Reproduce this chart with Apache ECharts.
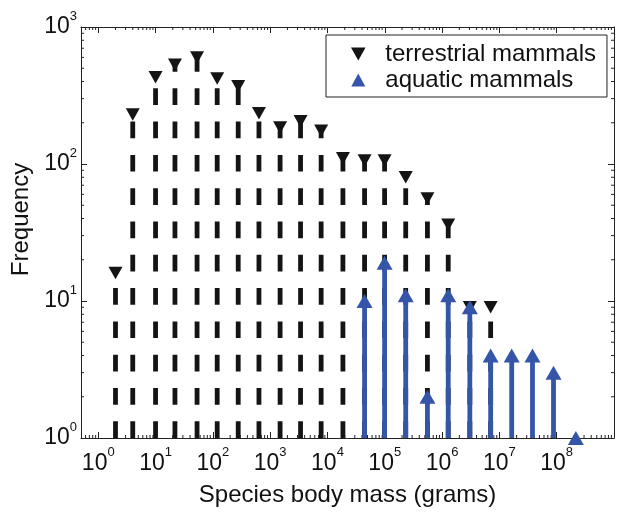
<!DOCTYPE html>
<html><head><meta charset="utf-8">
<script src="https://cdn.jsdelivr.net/npm/echarts@6/dist/echarts.min.js"></script>
<style>html,body{margin:0;padding:0;background:#fff}#c{width:623px;height:513px}</style>
</head><body><div id="c"></div>
<script>
// ---- data ----
const terrestrialMass  = [2.0, 4.0, 10, 21.8, 53, 119, 277, 637, 1490, 3390, 7750, 18600, 44400, 99300, 232000, 555000, 1.28e6, 3.05e6, 7.04e6];
const terrestrialCount = [16, 230, 430, 530, 600, 420, 370, 235, 185, 205, 175, 110, 106, 106, 80, 56, 36, 9, 9];
const aquaticMass  = [44400, 99300, 232000, 555000, 1.28e6, 3.05e6, 7.04e6, 1.64e7, 3.78e7, 8.8e7, 2.16e8];
const aquaticCount = [10, 19, 11, 2, 11, 9, 4, 4, 4, 3, 1];
const xMajorExponents = [0, 1, 2, 3, 4, 5, 6, 7, 8];
const yMajorExponents = [0, 1, 2, 3];
const xRange = [0.5, 1e9];
const yRange = [1, 1000];

const FONT = 'Liberation Sans, Arial, Helvetica, sans-serif';
const AX = '#222';
const BLACK = '#141414';
const BLUE = '#3455a8';

// minor tick values (axis decoration)
const xMinor = [], yMinor = [];
for (let e = -1; e <= 8; e++) for (let m = 2; m <= 9; m++) { const v = m * Math.pow(10, e); if (v > xRange[0] && v < xRange[1]) xMinor.push([v, 1]); }
for (let e = 0; e <= 2; e++) for (let m = 2; m <= 9; m++) yMinor.push([xRange[0], m * Math.pow(10, e)]);

function supFormatter(list) {
  return function (v) {
    const l = Math.log10(v), e = Math.round(l);
    if (Math.abs(l - e) > 1e-6 || list.indexOf(e) < 0) return '';
    return '{b|10}{s|' + e + '}';
  };
}
const rich = {
  b: { fontSize: 23, lineHeight: 23, fontFamily: FONT, color: '#111', verticalAlign: 'bottom' },
  s: { fontSize: 13, lineHeight: 13, fontFamily: FONT, color: '#111', padding: [0, 0, 16, 0], verticalAlign: 'bottom' }
};

function stemRenderer(color, dash) {
  return function (params, api) {
    const x = api.value(0), v = api.value(1);
    const p0 = api.coord([x, yRange[0]]);
    const p1 = api.coord([x, v]);
    return { type: 'line', shape: { x1: p0[0], y1: p0[1], x2: p1[0], y2: p1[1] },
      style: { stroke: color, lineWidth: 4.8, lineDash: dash, lineCap: 'butt' } };
  };
}

const chart = echarts.init(document.getElementById('c'), null, { renderer: 'canvas' });
const commonAxis = { axisLine: { onZero: false, lineStyle: { color: AX, width: 1 } }, splitLine: { show: false } };

chart.setOption({
  animation: false,
  backgroundColor: '#fff',
  grid: { left: 81, right: 9, top: 27, bottom: 75, containLabel: false },
  xAxis: [
    Object.assign({}, commonAxis, {
      type: 'log', logBase: 10, min: xRange[0], max: xRange[1], position: 'bottom',
      axisTick: { inside: true, length: 6, lineStyle: { color: AX } },
      axisLabel: { formatter: supFormatter(xMajorExponents), rich: rich, margin: 14, showMinLabel: false, showMaxLabel: false },
      name: 'Species body mass (grams)', nameLocation: 'middle', nameGap: 45,
      nameTextStyle: { fontSize: 24, fontFamily: FONT, color: '#111' }
    }),
    Object.assign({}, commonAxis, {
      type: 'log', logBase: 10, min: xRange[0], max: xRange[1], position: 'top',
      axisTick: { inside: true, length: 6, lineStyle: { color: AX } },
      axisLabel: { show: false }
    })
  ],
  yAxis: [
    Object.assign({}, commonAxis, {
      type: 'log', logBase: 10, min: yRange[0], max: yRange[1], position: 'left',
      axisTick: { inside: true, length: 6, lineStyle: { color: AX } },
      axisLabel: { formatter: supFormatter(yMajorExponents), rich: rich, margin: 4 },
      name: 'Frequency', nameLocation: 'middle', nameGap: 46, nameRotate: 90,
      nameTextStyle: { fontSize: 24, fontFamily: FONT, color: '#111', padding: [0, 0, 0, 26] }
    }),
    Object.assign({}, commonAxis, {
      type: 'log', logBase: 10, min: yRange[0], max: yRange[1], position: 'right',
      axisTick: { inside: true, length: 6, lineStyle: { color: AX } },
      axisLabel: { show: false }
    })
  ],
  legend: {
    orient: 'vertical', left: 326, top: 35,
    padding: [7, 11, 5, 25], itemGap: 2, itemWidth: 44, itemHeight: 13,
    borderColor: AX, borderWidth: 1, backgroundColor: '#fff',
    textStyle: { fontSize: 24, fontFamily: FONT, color: '#111' },
    data: [
      { name: 'terrestrial mammals', icon: 'path://M0,0L14,0L7,12.5Z' },
      { name: 'aquatic mammals', icon: 'path://M7,0L14,13L0,13Z' }
    ]
  },
  series: [
    { type: 'custom', name: 'xminor', coordinateSystem: 'cartesian2d', silent: true, clip: false,
      data: xMinor,
      renderItem: function (params, api) {
        const v = api.value(0);
        const b = api.coord([v, yRange[0]]), t = api.coord([v, yRange[1]]);
        return { type: 'group', children: [
          { type: 'line', shape: { x1: b[0], y1: b[1], x2: b[0], y2: b[1] - 3 }, style: { stroke: AX, lineWidth: 1 } },
          { type: 'line', shape: { x1: t[0], y1: t[1], x2: t[0], y2: t[1] + 3 }, style: { stroke: AX, lineWidth: 1 } }
        ] };
      } },
    { type: 'custom', name: 'yminor', coordinateSystem: 'cartesian2d', silent: true, clip: false,
      data: yMinor,
      renderItem: function (params, api) {
        const v = api.value(1);
        const l = api.coord([xRange[0], v]), r = api.coord([xRange[1], v]);
        return { type: 'group', children: [
          { type: 'line', shape: { x1: l[0], y1: l[1], x2: l[0] + 3, y2: l[1] }, style: { stroke: AX, lineWidth: 1 } },
          { type: 'line', shape: { x1: r[0], y1: r[1], x2: r[0] - 3, y2: r[1] }, style: { stroke: AX, lineWidth: 1 } }
        ] };
      } },
    { type: 'custom', name: 'terrestrial stems', coordinateSystem: 'cartesian2d', silent: true, clip: false,
      data: terrestrialMass.map((m, i) => [m, terrestrialCount[i]]),
      renderItem: stemRenderer(BLACK, [16.7, 16.6]) },
    { type: 'scatter', name: 'terrestrial mammals', symbol: 'triangle', symbolRotate: 180, symbolSize: [14, 12.5],
      itemStyle: { color: BLACK, opacity: 1 }, clip: false,
      data: terrestrialMass.map((m, i) => [m, terrestrialCount[i]]) },
    { type: 'custom', name: 'aquatic stems', coordinateSystem: 'cartesian2d', silent: true, clip: false,
      data: aquaticMass.map((m, i) => [m, aquaticCount[i]]),
      renderItem: stemRenderer(BLUE, null) },
    { type: 'scatter', name: 'aquatic mammals', symbol: 'triangle', symbolSize: [16, 14],
      itemStyle: { color: BLUE, opacity: 1 }, clip: false,
      data: aquaticMass.map((m, i) => [m, aquaticCount[i]]) }
  ]
});
</script>
</body></html>
